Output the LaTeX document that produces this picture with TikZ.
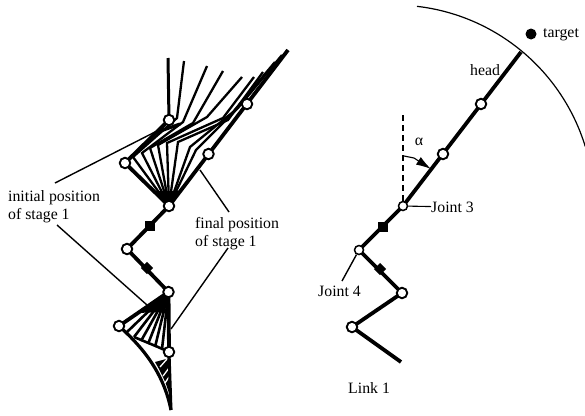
\documentclass[tikz,border=0pt]{standalone}
\usepackage{fontspec}
\setmainfont{Liberation Serif}
\usetikzlibrary{arrows.meta,backgrounds}
\tikzset{
  joint/.style={circle,draw=black,fill=white,line width=1.9pt,inner sep=0pt,minimum size=10.5pt},
  squaremark/.style={rectangle,fill=black,inner sep=0pt,minimum size=9.5pt},
  diamondmark/.style={rectangle,fill=black,inner sep=0pt,minimum size=8.5pt,rotate=45},
  lbl/.style={font=\fontsize{15.8}{18}\selectfont,inner sep=0pt,align=left},
  link/.style={line width=3.8pt,line join=miter},
  fanlow/.style={line width=2.6pt,line join=miter},
  fanhigh/.style={line width=2.3pt,line join=miter},
  leader/.style={line width=1.4pt},
}
\begin{document}
\begin{tikzpicture}[x=1pt,y=-1pt]
\useasboundingbox (0,0) rectangle (585,415);
% joints
\node[joint] (a1) at (169,120) {};
\node[joint] (a2) at (125,163) {};
\node[joint] (a3) at (169,206) {};
\node[joint] (a4) at (127,249) {};
\node[joint] (a5) at (168.5,292) {};
\node[joint] (a6) at (119,326) {};
\node[joint] (a7) at (169,352) {};
\node[joint] (a8) at (208.5,154) {};
\node[joint] (a9) at (247,104) {};
\coordinate (atop) at (168,58);
\coordinate (atip) at (288,50);
\coordinate (abot) at (171,410);
\node[squaremark] (am) at (150,226) {};
\node[diamondmark] (an) at (147,268) {};
\begin{pgfonlayer}{background}
  % lower fan
  \foreach \ex/\ey in {127/332, 134/337, 141/341, 148/344, 155/347, 162/349}{
    \draw[fanlow] (a5.center) -- (\ex,\ey);
  }
  \fill[black] (a5.center) -- (137,313) -- (164,312) -- cycle;
  \draw[line width=3.2pt] (a6.center) .. controls (140,345) and (163,370) .. (abot);
  \draw[fanlow] (134,337) -- (158,347) -- (169,352);
  \fill[black] (155,362) -- (170,358) -- (171,402) .. controls (168,386) and (162,374) .. (155,362) -- cycle;
  \draw[white,line width=1.3pt] (160,367) -- (167,359);
  \draw[white,line width=1.3pt] (163,376) -- (169,368);
  \draw[white,line width=1.3pt] (165,383) -- (169,377);
  \draw[link] (a5.center) -- (a6.center);
  \draw[link] (a5.center) -- (a7.center);
  \draw[line width=3pt] (a7.center) -- (abot);
  % upper fan
  \foreach \ex/\ey/\kx/\ky/\tx/\ty in {
   133/157/177/118/184/61,
   142/153/183/122/207/66,
   150/148/193/123/223/71,
   158/145/207/117/242/77,
   167/143/223/118/254/77,
   178/142/228/120/263/72,
   190/147/233/112/275/62,
   196/150/238/108/282/55}{
    \draw[fanhigh] (a3.center) -- (\ex,\ey) -- (\kx,\ky) -- (\tx,\ty);
  }
  \fill[black] (a3.center) -- (154,191) -- (180,191) -- cycle;
  \draw[link] (a3.center) -- (a2.center) -- (a1.center);
  \draw[line width=3.2pt] (155,133) -- (180,124);
  \draw[line width=3pt] (a1.center) -- (atop);
  \draw[link] (a3.center) -- (atip);
  % chain
  \draw[link] (a3.center) -- (a4.center) -- (a5.center);
\end{pgfonlayer}
% left labels and leaders
\node[lbl,anchor=west] (init) at (8,198) {initial position};
\node[lbl,anchor=west] (inib) at (8,216) {of stage 1};
\node[lbl,anchor=west] (fin) at (195,225) {final position};
\node[lbl,anchor=west] (finb) at (195,243) {of stage 1};
\coordinate (i1) at (55,183);
\coordinate (i2) at (155,132);
\coordinate (i3) at (57,225);
\coordinate (i4) at (147,305);
\coordinate (f1) at (200,170);
\coordinate (f2) at (229,212);
\coordinate (f3) at (228,248);
\coordinate (f4) at (171,329);
\draw[leader] (i1) -- (i2);
\draw[leader] (i3) -- (i4);
\draw[leader] (f1) -- (f2);
\draw[leader] (f3) -- (f4);
% right figure
\coordinate (ctr) at (394,205);
\draw[line width=1.2pt] (ctr) ++(-83.4:200) arc[start angle=-83.4,end angle=-17,radius=200];
\coordinate (r0) at (401,362);
\coordinate (rh) at (521,52);
\node[joint] (r1) at (352,327) {};
\node[joint] (r2) at (402,293) {};
\node[joint,minimum size=9pt,line width=1.5pt] (r3) at (359,250) {};
\node[joint,minimum size=9pt,line width=1.5pt] (r4) at (403,206) {};
\node[joint] (r5) at (443,154) {};
\node[joint] (r6) at (481,104) {};
\begin{pgfonlayer}{background}
  \draw[link] (r0) -- (r1.center) -- (r2.center) -- (r3.center) -- (r4.center) -- (rh);
\end{pgfonlayer}
\node[squaremark] (rm) at (383,227) {};
\node[diamondmark] (rn) at (380,269) {};
\node[circle,fill=black,inner sep=0pt,minimum size=11pt] (tg) at (531,34) {};
\node[lbl,anchor=west] (tl) at (543,35) {target};
\node[lbl,anchor=west] (hd) at (470,70) {head};
\node[lbl,anchor=center] (al) at (419,142) {α};
\node[lbl,anchor=west] (j3) at (431,207) {Joint 3};
\node[lbl,anchor=west] (j4) at (318,291) {Joint 4};
\node[lbl,anchor=west] (l1) at (348,388) {Link 1};
\coordinate (dt) at (403,112);
\coordinate (aS) at (404,156);
\coordinate (aM) at (414,158);
\coordinate (aE) at (431,169);
\coordinate (j4e) at (342,281);
\draw[line width=1.1pt,dash pattern=on 6pt off 4pt] (r4) -- (dt);
\draw[line width=1.1pt] (aS) -- (aM);
\draw[line width=1.1pt,-{Latex[length=15pt,width=9pt]}] (aM) -- (aE);
\draw[line width=1.1pt] (r4) -- (j3);
\draw[leader] (r3) -- (j4e);
\end{tikzpicture}
\end{document}
